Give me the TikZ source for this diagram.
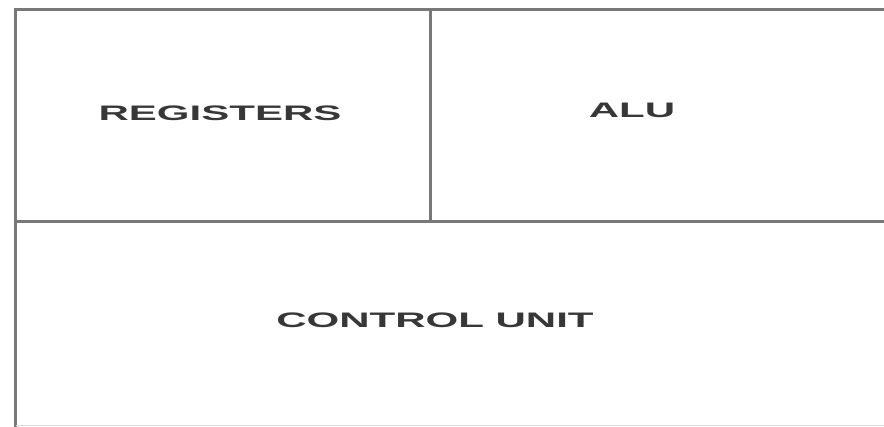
\documentclass[tikz,border=0pt]{standalone}
\usepackage{fontspec}
\setmainfont{Liberation Sans}
\usepackage{tikz}
\usetikzlibrary{positioning}
\definecolor{cpuline}{RGB}{120,120,120}
\definecolor{cputext}{RGB}{55,55,55}
\tikzset{
  cpuwall/.style={line width=3pt, cpuline},
  cpufaint/.style={line width=1pt, cpuline!25},
  cpulabel/.style={font=\bfseries\fontsize{21}{21}\selectfont, text=cputext,
                   xscale=2.0, inner sep=0pt},
}
\begin{document}
\begin{tikzpicture}[x=1pt, y=-1pt]
  \useasboundingbox (0,0) rectangle (884,427);
  % outer frame (right side runs off the picture)
  \draw[cpuwall] (890,9.5) -- (15.5,9.5) -- (15.5,430);
  \draw[cpufaint] (15.5,426) -- (890,426);
  % dividers
  \draw[cpuwall] (15.5,221.5) -- (890,221.5);
  \draw[cpuwall] (430,9.5) -- (430,221.5);
  % labels
  \node[cpulabel] (regs) at (220,113) {REGISTERS};
  \node[cpulabel] (alu)  at (632,110) {ALU};
  \node[cpulabel] (cu)   at (435,320) {CONTROL UNIT};
\end{tikzpicture}
\end{document}
